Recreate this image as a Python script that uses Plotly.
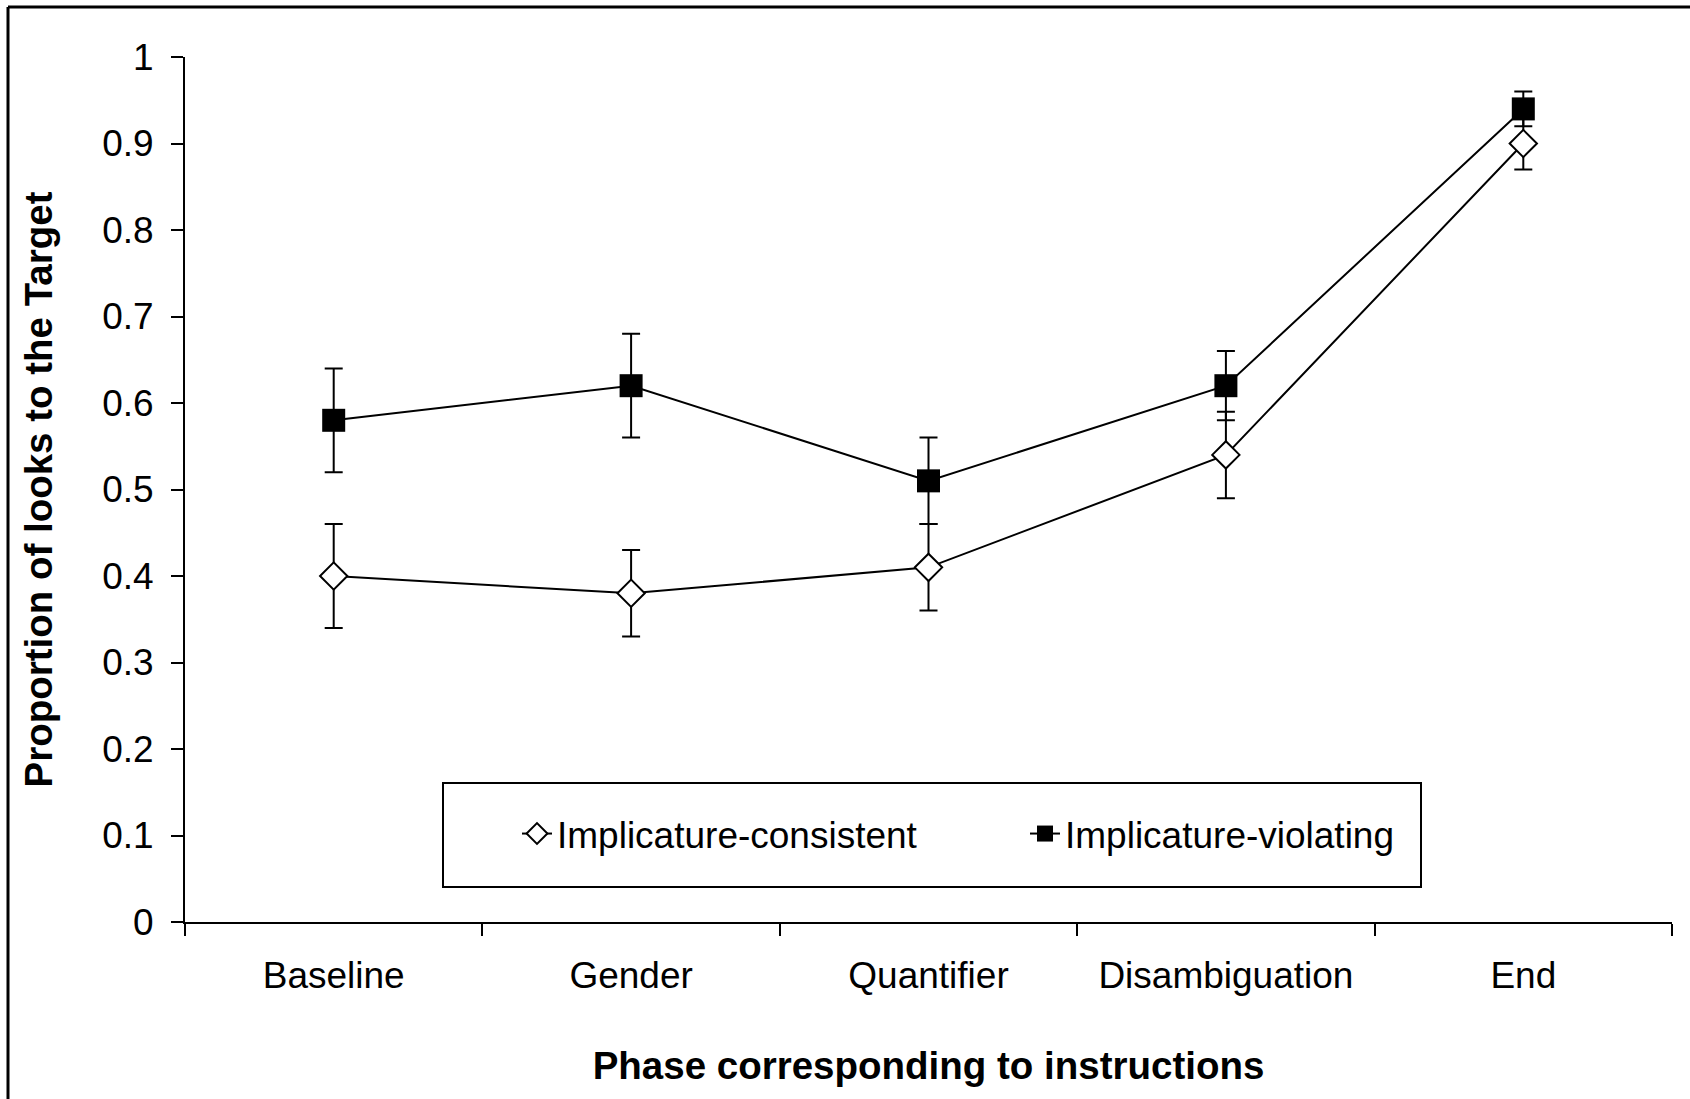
import plotly.graph_objects as go

phases = ["Baseline", "Gender", "Quantifier", "Disambiguation", "End"]
consistent = [0.40, 0.38, 0.41, 0.54, 0.90]
consistent_err = [0.06, 0.05, 0.05, 0.05, 0.03]
violating = [0.58, 0.62, 0.51, 0.62, 0.94]
violating_err = [0.06, 0.06, 0.05, 0.04, 0.02]

FONT = "Arial, 'Liberation Sans', sans-serif"

fig = go.Figure()
fig.add_trace(go.Scatter(
    x=phases, y=consistent, name="Implicature-consistent",
    mode="lines+markers",
    line=dict(color="black", width=2),
    marker=dict(symbol="diamond", size=21, color="white",
                line=dict(color="black", width=2)),
    error_y=dict(type="data", array=consistent_err, visible=True,
                 color="black", thickness=2, width=9),
))
fig.add_trace(go.Scatter(
    x=phases, y=violating, name="Implicature-violating",
    mode="lines+markers",
    line=dict(color="black", width=2),
    marker=dict(symbol="square", size=23, color="black",
                line=dict(color="black", width=0)),
    error_y=dict(type="data", array=violating_err, visible=True,
                 color="black", thickness=2, width=9),
))

W, H = 1690, 1099
L, R, T, B = 185, 18, 57, 177
pw, ph = W - L - R, H - T - B

def px_x(p):
    return (p - L) / pw

def px_y(p):
    return (H - B - p) / ph

fig.update_layout(
    width=W, height=H,
    margin=dict(l=L, r=R, t=T, b=B),
    paper_bgcolor="white", plot_bgcolor="white",
    font=dict(family=FONT, color="black", size=37),
    showlegend=True,
    legend=dict(
        orientation="h", x=px_x(517), xanchor="left",
        y=px_y(834), yanchor="middle",
        bgcolor="rgba(0,0,0,0)", borderwidth=0,
        font=dict(size=37, family=FONT, color="black"),
        entrywidth=463, entrywidthmode="pixels",
        traceorder="normal",
    ),
    xaxis=dict(
        type="category", range=[-0.5, 4.5],
        showline=True, linecolor="black", linewidth=2,
        ticks="outside", ticklen=12, tickwidth=2, tickcolor="black",
        tickson="boundaries", ticklabelstandoff=20,
        showgrid=False, zeroline=False,
        tickfont=dict(size=37, family=FONT),
        title=dict(text="<b>Phase corresponding to instructions</b>",
                   font=dict(size=38.5, family=FONT), standoff=57),
    ),
    yaxis=dict(
        range=[0, 1], dtick=0.1, tick0=0,
        showline=True, linecolor="black", linewidth=2,
        ticks="outside", ticklen=12, tickwidth=2, tickcolor="black",
        ticklabelstandoff=10,
        showgrid=False, zeroline=False,
        tickfont=dict(size=37, family=FONT),
        title=dict(text="<b>Proportion of looks to the Target</b>",
                   font=dict(size=38.5, family=FONT), standoff=38),
    ),
    shapes=[
        dict(type="rect", xref="paper", yref="paper",
             x0=px_x(443), x1=px_x(1421), y0=px_y(887), y1=px_y(783),
             line=dict(color="black", width=2), fillcolor="rgba(0,0,0,0)",
             layer="below"),
        dict(type="line", xref="paper", yref="paper",
             x0=px_x(8), x1=px_x(W + 5), y0=px_y(7), y1=px_y(7),
             line=dict(color="black", width=3)),
        dict(type="line", xref="paper", yref="paper",
             x0=px_x(8), x1=px_x(8), y0=px_y(7), y1=px_y(H + 5),
             line=dict(color="black", width=3)),
    ],
)

fig.write_html(
    "out.html",
    config={"displayModeBar": False},
    post_script="document.body.style.margin='0';document.body.style.overflow='hidden';",
)
